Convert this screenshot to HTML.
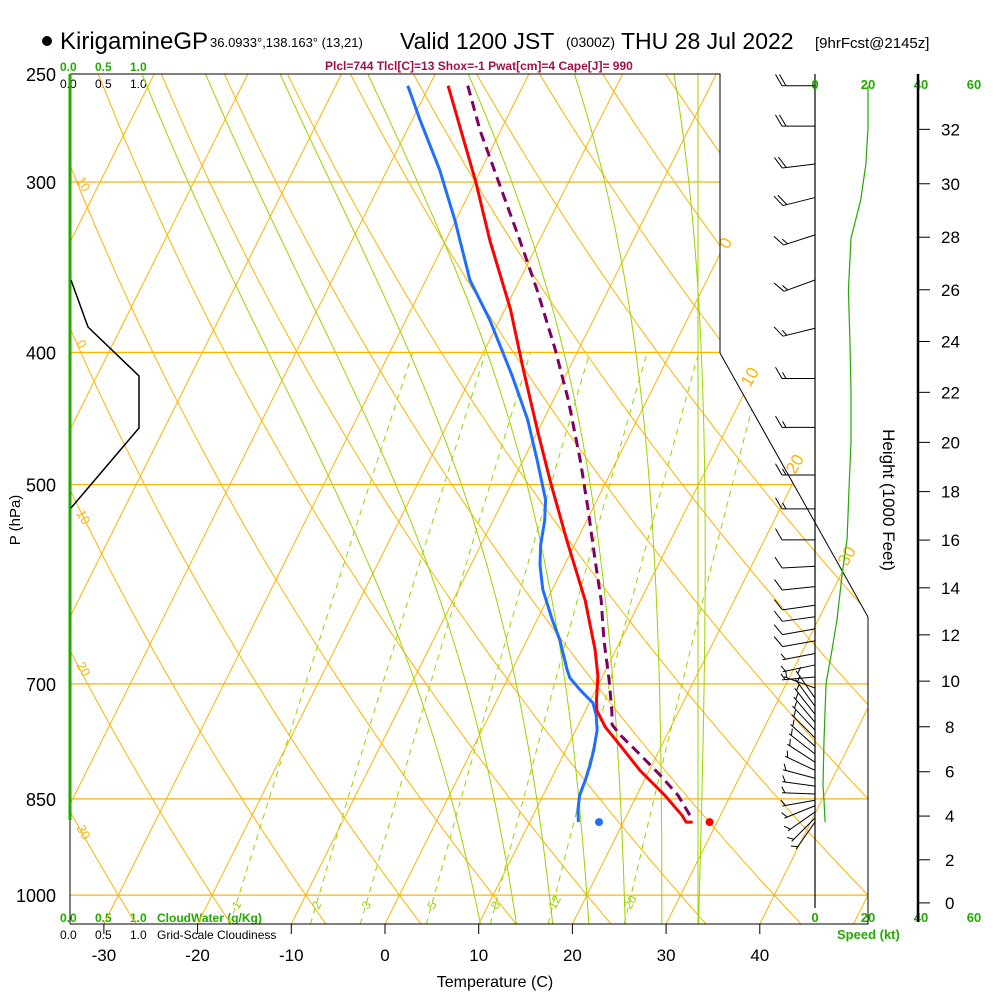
<!DOCTYPE html>
<html><head><meta charset="utf-8"><style>
html,body{margin:0;padding:0;background:#fff;}
svg{display:block;font-family:"Liberation Sans",sans-serif;}
</style></head><body>
<svg id="chart" width="1000" height="1000" viewBox="0 0 1000 1000" xmlns="http://www.w3.org/2000/svg">
<defs><clipPath id="plotclip"><polygon points="70,74 720,74 720,353 868,617 868,924 70,924"/></clipPath></defs>
<g id="title">
<circle cx="47" cy="41" r="5" fill="#000"/>
<text x="60" y="49" font-size="24">KirigamineGP</text>
<text x="210" y="47" font-size="13">36.0933°,138.163° (13,21)</text>
<text x="400" y="49" font-size="23">Valid 1200 JST</text>
<text x="566" y="47" font-size="14">(0300Z)</text>
<text x="621" y="49" font-size="23">THU 28 Jul 2022</text>
<text x="815" y="48" font-size="15">[9hrFcst@2145z]</text>
</g>
<text x="325" y="70" font-size="12" font-weight="bold" fill="#a0104a">Plcl=744 Tlcl[C]=13 Shox=-1 Pwat[cm]=4 Cape[J]= 990</text>
<g font-size="12" font-weight="bold">
<text x="60" y="71" fill="#22aa00">0.0</text><text x="95" y="71" fill="#22aa00">0.5</text><text x="130" y="71" fill="#22aa00">1.0</text>
<text x="60" y="88" fill="#000" font-weight="normal">0.0</text><text x="95" y="88" font-weight="normal">0.5</text><text x="130" y="88" font-weight="normal">1.0</text>
</g>
<g font-size="12" font-weight="bold">
<text x="60" y="922" fill="#22aa00">0.0</text><text x="95" y="922" fill="#22aa00">0.5</text><text x="130" y="922" fill="#22aa00">1.0</text>
<text x="157" y="922" fill="#22aa00">CloudWater (g/Kg)</text>
<text x="60" y="939" font-weight="normal">0.0</text><text x="95" y="939" font-weight="normal">0.5</text><text x="130" y="939" font-weight="normal">1.0</text>
<text x="157" y="939" font-weight="normal">Grid-Scale Cloudiness</text>
</g>
<g id="grid" clip-path="url(#plotclip)"></g>
<g id="series"></g>
<g id="frame">
<polyline points="70,74 720,74 720,353 868,617 868,924 70,924" fill="none" stroke="#000" stroke-width="1"/>
<line x1="70" y1="820" x2="70" y2="924" stroke="#000" stroke-width="1"/>
<line x1="70" y1="74" x2="70" y2="820" stroke="#22aa00" stroke-width="3"/>
<polyline points="71,280 88,327 139,376 139,428 71,508" fill="none" stroke="#000" stroke-width="1.5"/>
</g>
<g id="axes"></g>
<text x="495" y="987" font-size="16" text-anchor="middle">Temperature (C)</text>
<text transform="translate(20,520) rotate(-90)" font-size="15" text-anchor="middle">P (hPa)</text>
<text transform="translate(883,500) rotate(90)" font-size="17" text-anchor="middle">Height (1000 Feet)</text>
<text x="837" y="939" font-size="13" font-weight="bold" fill="#22aa00">Speed (kt)</text>
</svg>
<script>
// ---- data ----
var tempP = [255,300,331,372,412,456,496,549,608,661,691,719,732,753,776,810,845,874,884,884];
var tempT = [-38.0,-29.9,-25.3,-19.4,-14.8,-10.1,-6.1,-1.1,4.1,7.8,9.5,10.6,11.2,13.0,15.5,19.0,23.0,25.9,26.7,27.4];
var dewP = [255,270,294,320,354,379,416,448,480,513,531,554,573,597,628,650,684,693,707,723,738,757,783,803,823,845,866,884];
var dewT = [-42.3,-39.2,-34.4,-30.1,-25.3,-21.0,-15.7,-11.7,-8.5,-5.5,-4.5,-3.6,-2.6,-1.0,1.6,3.5,5.9,6.6,8.3,10.4,11.4,12.3,13.0,13.4,13.7,13.9,14.5,15.2];
var parcelP = [255,275,301.5,331,360,398,433.5,480,522,568,608,650,695.5,732,750,763,789,816.5,845,881];
var parcelT = [-35.9,-32.2,-27.2,-22.1,-17.6,-12.5,-8.4,-3.9,-0.4,3.0,5.8,8.2,10.9,12.8,13.6,15.0,18.2,21.4,24.4,27.3];
var sfcP = [884];
var sfcTemp = [29.2];
var sfcDew = [17.4];
var windP = [255,273,291,308,328,354,384,418,454,492,521,549,574,594,613,625,638,651,665,678,692,705,717,727,737,747,757,767,778,788,799,810,821,832,843,852,860,869,878,884];
var windDir = [270,270,263,256,252,250,256,270,270,270,270,270,267,264,262,262,260,260,259,258,265,290,325,324,322,320,317,315,312,308,303,295,285,278,272,260,248,235,225,215];
var windSpd = [20,20,20,19,17,14,13,13,13,13,13,12,11,10,10,9,9,8,7,6,5,5,5,5,5,5,5,5,5,5,5,5,5,5,5,5,5,5,5,5];
var spdP = [255,274,291,309,330,360,394,428,465,506,548,583,628,661,699,770,831,852,884];
var spdV = [20,20,19.2,17.3,13.6,12.6,13.2,13.6,13.6,12.8,12.1,10.2,8.3,6.4,4.2,3.4,3.0,3.4,3.8];
var pLabels = [250,300,400,500,700,850,1000];
var tLabels = [-30,-20,-10,0,10,20,30,40];
var hLabels = [0,2,4,6,8,10,12,14,16,18,20,22,24,26,28,30,32];
var mixRatios = [1,2,3,5,8,12,20];
var isoTemps = [-120,-110,-100,-90,-80,-70,-60,-50,-40,-30,-20,-10,0,10,20,30,40,50];
var dryThetas = [-40,-30,-20,-10,0,10,20,30,40,50,60,70,80,90,100,110,120,130];
var moistThetas = [8,12,16,20,24,28,32];

// ---- axis functions ----
function Y(p){return 74+592.3*Math.log(p/250);}
function X(T,p){return 385+9.37*T+0.5*(924-Y(p));}
function spdX(v){return 815+2.65*v;}
function hY(hft){var p=1013.25*Math.pow(1-6.8756e-6*hft,5.2559);return Y(p);}
var NS='http://www.w3.org/2000/svg';
function mk(tag,attrs,parent){var e=document.createElementNS(NS,tag);for(var k in attrs)e.setAttribute(k,attrs[k]);parent.appendChild(e);return e;}
var grid=document.getElementById('grid'),series=document.getElementById('series'),axes=document.getElementById('axes');
var OR='#ffb300',GR='#99d400';
function pts(arr){return arr.map(function(a){return a[0].toFixed(1)+','+a[1].toFixed(1);}).join(' ');}

pLabels.forEach(function(p){
  if(p===250)return;
  var l=mk('line',{x1:70,x2:870,y1:Y(p),y2:Y(p),stroke:OR,'stroke-width':1.2},grid);
  
  
});
isoTemps.forEach(function(t){
  var l=mk('line',{x1:X(t,1050),y1:Y(1050),x2:X(t,250),y2:Y(250),stroke:OR,'stroke-width':1},grid);
  
  
});
dryThetas.forEach(function(th){
  var a=[];for(var p=1050;p>=250;p-=10){var T=(th+273.15)*Math.pow(p/1000,0.286)-273.15;a.push([X(T,p),Y(p)]);}
  var l=mk('polyline',{points:pts(a),fill:'none',stroke:OR,'stroke-width':1},grid);
  
  
});
function es(T){return 6.112*Math.exp(17.67*T/(T+243.5));}
function dTdp(T,p){var Tk=T+273.15,e=es(T),rs=0.622*e/(p-e);return (287*Tk+2.5e6*rs)/(p*(1004+2.5e6*2.5e6*rs*0.622/(287*Tk*Tk)));}
moistThetas.forEach(function(t0){
  var Td=t0;for(var q=1000;q<1050;q+=5){Td+=dTdp(Td,q)*5;}
  var a=[[X(Td,1050),Y(1050)]];
  var T=t0,p=1000;a.push([X(T,p),Y(p)]);
  while(p>250){T-=dTdp(T,p)*5;p-=5;a.push([X(T,p),Y(p)]);}
  var l=mk('polyline',{points:pts(a),fill:'none',stroke:GR,'stroke-width':1},grid);
  
  
});
mixRatios.forEach(function(w){
  var a=[];for(var p=1050;p>=400;p-=10){var e=w*p/(622+w),L=Math.log(e/6.112);var T=243.5*L/(17.67-L);a.push([X(T,p),Y(p)]);}
  var l=mk('polyline',{points:pts(a),fill:'none',stroke:GR,'stroke-width':1,'stroke-dasharray':'6,5'},grid);
  
  
  var e0=w*1000/(622+w),L0=Math.log(e0/6.112),T0=243.5*L0/(17.67-L0);
  var lx=X(T0,1000)-4;
  var tx=mk('text',{x:lx,y:912,'font-size':12,fill:GR,transform:'rotate(-60 '+lx+' 908)'},series);
  tx.textContent=w;
  
  
});
var vl=mk('line',{x1:698,y1:74,x2:698,y2:924,stroke:GR,'stroke-width':1},grid);



[['10',76,180],['0',76,343],['10',76,513],['20',76,665],['30',76,828]].forEach(function(d){
  var t=mk('text',{x:d[1],y:d[2],'font-size':13,fill:OR,transform:'rotate(60 '+d[1]+' '+d[2]+')'},series);t.textContent=d[0];
  
  
});
[['0',728,250],['10',750,388],['20',795,475],['30',847,567]].forEach(function(d){
  var t=mk('text',{x:d[1],y:d[2],'font-size':17,fill:OR,transform:'rotate(-60 '+d[1]+' '+d[2]+')'},series);t.textContent=d[0];
  
  
});

function profile(P,T,color,name,dash){
  var a=P.map(function(p,i){return [X(T[i],p),Y(p)];});
  var attrs={points:pts(a),fill:'none',stroke:color,'stroke-width':3,'stroke-linejoin':'round'};
  if(dash)attrs['stroke-dasharray']=dash;
  var l=mk('polyline',attrs,series);
  
  
}
profile(parcelP,parcelT,'#800060','parcel-trace','10,6');
profile(dewP,dewT,'#1e6fff','dewpoint-profile');
profile(tempP,tempT,'#ff0000','temperature-profile');
var d1=mk('circle',{cx:X(sfcTemp[0],sfcP[0]),cy:Y(sfcP[0]),r:4,fill:'#ff0000'},series);


var d2=mk('circle',{cx:X(sfcDew[0],sfcP[0]),cy:Y(sfcP[0]),r:4,fill:'#1e6fff'},series);



var sa=mk('line',{x1:815,y1:74,x2:815,y2:908,stroke:'#000','stroke-width':1.2},axes);


[0,20,40,60].forEach(function(v){
  [89,922].forEach(function(yy){
    var t=mk('text',{x:spdX(v),y:yy,'font-size':13,'font-weight':'bold',fill:'#22aa00','text-anchor':'middle'},axes);t.textContent=v;
    
    
  });
});
var sp=spdP.map(function(p,i){return [spdX(spdV[i]),Y(p)];});
var spl=mk('polyline',{points:pts(sp),fill:'none',stroke:'#22aa00','stroke-width':1.2},axes);



windP.forEach(function(p,i){
  var y=Y(p),ang=(windDir[i]-270)*Math.PI/180;
  var ux=-Math.cos(ang),uy=-Math.sin(ang),L=33;
  var ex=815+ux*L,ey=y+uy*L;
  var g=mk('g',{},axes);
  
  
  mk('line',{x1:815,y1:y,x2:ex,y2:ey,stroke:'#000','stroke-width':1},g);
  var s=windSpd[i],full=Math.floor((s+2.5)/10),half=((s+2.5)%10)>=5?1:0;
  var fa=Math.atan2(uy,ux)+Math.PI/3;
  var pos=0,bx,by;
  for(var k=0;k<full;k++){bx=ex-ux*pos;by=ey-uy*pos;mk('line',{x1:bx,y1:by,x2:bx+Math.cos(fa)*13,y2:by+Math.sin(fa)*13,stroke:'#000','stroke-width':1},g);pos+=4;}
  if(half){if(full===0)pos=3;bx=ex-ux*pos;by=ey-uy*pos;mk('line',{x1:bx,y1:by,x2:bx+Math.cos(fa)*7,y2:by+Math.sin(fa)*7,stroke:'#000','stroke-width':1},g);}
});

var ha=mk('line',{x1:918,y1:74,x2:918,y2:922,stroke:'#000','stroke-width':2.5},axes);


hLabels.forEach(function(h){
  var y=hY(h*1000);
  mk('line',{x1:918,y1:y,x2:930,y2:y,stroke:'#000','stroke-width':1},axes);
  var t=mk('text',{x:h>=10?941:945,y:y+6,'font-size':17},axes);t.textContent=h;
  
  
});
pLabels.forEach(function(p){
  var t=mk('text',{x:56,y:Y(p)+7,'font-size':18,'text-anchor':'end'},axes);t.textContent=p;
  
  
});
tLabels.forEach(function(T){
  var x=385+9.37*T;
  mk('line',{x1:x,y1:924,x2:x,y2:934,stroke:'#000','stroke-width':1},axes);
  var t=mk('text',{x:x,y:961,'font-size':17,'text-anchor':'middle'},axes);t.textContent=T;
  
  
});
</script>
</body></html>
